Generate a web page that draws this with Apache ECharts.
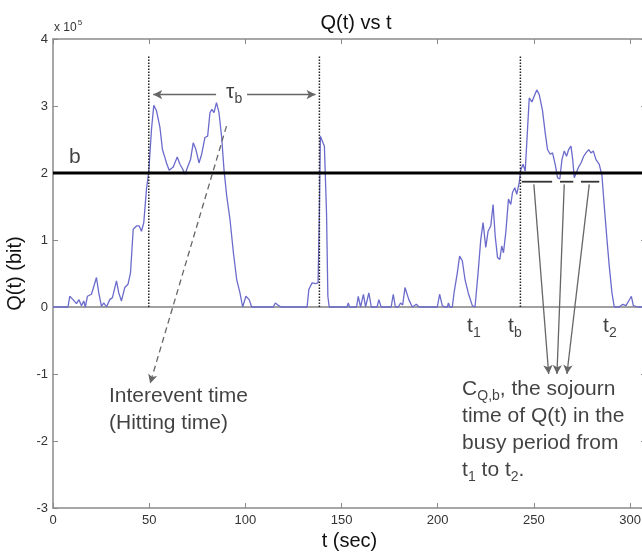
<!DOCTYPE html>
<html>
<head>
<meta charset="utf-8">
<script src="https://cdn.jsdelivr.net/npm/echarts@6/dist/echarts.min.js"></script>
<style>
html,body{margin:0;padding:0;background:#fff;}
#chart{width:642px;height:556px;}
</style>
</head>
<body>
<div id="chart"></div>
<script>
// ---- data (Q in units of 10^5 bit) ----
const tValues = [0, 7.8, 8.7, 10.4, 12.2, 13.5, 14.8, 16, 16.8, 17.9, 20, 20.8, 22.6, 23.8, 25.2, 26.4, 27.8, 29.5, 30.9, 33, 34.2, 35.6, 37.3, 39, 40.3, 41.7, 43.4, 44.8, 46, 47.2, 48.6, 49.8, 51.2, 52.4, 53.8, 55.6, 56.9, 58.2, 59, 60.4, 62.5, 64.6, 66, 67.4, 68.6, 70, 71.5, 72.9, 74.3, 75.9, 77.3, 79, 80.4, 81.6, 82.6, 83.7, 85, 86.3, 87.7, 88.9, 90.3, 92, 93.8, 95.5, 97.2, 98.6, 100.3, 102, 103.3,
  114.5, 115.6, 117.4, 118.5, 132.1, 133, 134.7, 136.5, 137.8, 138.5, 139, 139.9, 141.1, 142.2, 142.9, 143.6, 152.9, 153.5, 154.2, 157.8, 158.7, 159.9, 161.4, 162.5, 164.2, 165.5, 168.5, 169.4, 170.6, 175.8, 176.9, 178, 179.5, 180.7, 181.8, 183, 185, 186.8, 188.9, 190.3, 199.8, 201, 202.4, 203.5, 205, 205.6, 206.3, 207.6, 208.5, 210.2, 211.4, 212.8, 214.2, 215.9, 218, 219.4, 221, 222.4, 223.6, 225, 226.2, 227.6, 228.8, 229.9, 231.1, 232.3, 233.3, 234.2, 235.4, 236.8, 238, 238.9, 240.1, 241.1, 242.4, 243.2, 244.4, 245.5, 246.7, 247.6, 249, 250.2, 251.5, 252.8, 254.5, 255.9, 257.1, 258.5, 259.7, 261.1, 262.3, 263.5, 264.6, 265.8, 267, 268.1, 269.3, 270.2, 271, 271.9, 273.1, 274.5, 275.9, 277.1, 278.5, 279.7, 280.9, 282.3, 284, 285.4, 286.6, 288, 289.2, 290.6, 291.8, 294.4, 296.2, 297.9, 299.3, 300.7, 301.7, 304, 308.3];
const qValues = [0, 0, 0.16, 0.11, 0.05, 0.11, 0.02, 0.09, 0, 0.16, 0.19, 0.21, 0.44, 0.21, 0.01, 0.06, 0, 0.11, 0.14, 0.39, 0.21, 0.09, 0.29, 0.34, 0.51, 1.16, 1.21, 1.21, 1.13, 1.26, 1.76, 2.03, 2.65, 3.01, 2.93, 2.68, 2.35, 2.23, 2.15, 2.04, 2.09, 2.24, 2.13, 2.06, 1.98, 2.09, 2.2, 2.45, 2.35, 2.15, 2.28, 2.53, 2.55, 2.9, 2.95, 2.9, 3.05, 2.9, 2.53, 2.05, 1.66, 1.31, 0.81, 0.41, 0.21, 0, 0.16, 0.11, 0,
  0, 0.06, 0.02, 0, 0, 0.26, 0.36, 0.35, 0.36, 1.41, 2.55, 2.54, 2.4, 1.41, 0.16, 0, 0, 0.06, 0, 0, 0.16, 0, 0.19, 0, 0.21, 0, 0, 0.11, 0, 0, 0.19, 0, 0, 0.06, 0.03, 0.29, 0.11, 0, 0.04, 0, 0, 0.19, 0.02, 0, 0, 0.06, 0, 0, 0.21, 0.51, 0.76, 0.69, 0.41, 0.21, 0.02, 0, 0.51, 1.01, 1.26, 0.89, 1.13, 1.21, 1.53, 1.06, 0.74, 0.71, 0.91, 0.81, 1.11, 1.61, 1.53, 1.71, 1.78, 1.68, 1.86, 2.05, 2.13, 2.03, 2.65, 3.12, 3.06, 3.15, 3.24, 3.17, 2.93, 2.6, 2.35, 2.28, 2.3, 2.13, 1.93, 1.91, 2.2, 2.33, 2.25, 2.35, 2.4, 2.2, 1.93, 1.91, 2.08, 2.15, 2.25, 2.3, 2.35, 2.3, 2.33, 2.2, 2.13, 1.96, 1.51, 1.01, 0.61, 0.21, 0, 0, 0.04, 0.02, 0.09, 0.16, 0.02, 0, 0];

const xMin = 0, xMax = 308.3, xInterval = 50;
const yMin = -3, yMax = 4, yInterval = 1;
const thresholdB = 2;            // b
const eventTimes = [49.8, 138.5, 243];   // dotted vertical lines
const eventLineTop = 3.75;
const tauArrowY = 3.17;
const tauArrowLeft = [84.8, 52.1];   // from, to
const tauArrowRight = [100.9, 136.5];
const hitArrow = [[90.2, 2.70], [50.5, -1.14]];
const sojournLevel = 1.87;
const sojournSegments = [[243.7, 259.5], [263.6, 270.5], [274.5, 284]];
const sojournArrows = [[[250, 1.83], [257.7, -1.0]], [[265.8, 1.83], [262, -1.0]], [[278.8, 1.83], [267.2, -1.0]]];
const titleText = 'Q(t) vs t';
const xName = 't (sec)';
const yName = 'Q(t) (bit)';
const annotations = [
  {pos: [8.3, 2.23], text: 'b'},
  {pos: [90, 3.2], text: '{tau|τ}{sub|b}'},
  {pos: [215.3, -0.29], text: 't{sub|1}'},
  {pos: [236.6, -0.29], text: 't{sub|b}'},
  {pos: [286, -0.29], text: 't{sub|2}'},
  {pos: [29.1, -1.54], text: 'Interevent time\n(Hitting time)'},
  {pos: [212.7, -1.83], text: 'C{sub|Q,b}, the sojourn\ntime of Q(t) in the\nbusy period from\nt{sub|1} to t{sub|2}.'}
];

const FONT = 'Liberation Sans, Arial, Helvetica, sans-serif';
const axisGray = '#8a8a8a';
const chart = echarts.init(document.getElementById('chart'), null, {renderer: 'canvas'});

function axisCommon(extra) {
  return Object.assign({
    type: 'value',
    axisLine: {show: true, onZero: false, lineStyle: {color: axisGray, width: 1.5}},
    axisTick: {show: true, inside: true, length: 5, lineStyle: {color: axisGray, width: 1}},
    splitLine: {show: false},
    axisLabel: {show: false}
  }, extra);
}

const markLineBase = {
  silent: true,
  symbol: ['none', 'arrow'],
  symbolSize: [7, 9],
  label: {show: false},
  emphasis: {disabled: true},
  animation: false
};

const option = {
  animation: false,
  textStyle: {fontFamily: FONT},
  title: {
    text: titleText, left: 351, top: 8, textAlign: 'center',
    textStyle: {fontSize: 20, fontWeight: 'normal', color: '#111', fontFamily: FONT}
  },
  grid: {left: 53, right: -4, top: 39, bottom: 48, containLabel: false, outerBoundsMode: 'none'},
  xAxis: [
    axisCommon({
      min: xMin, max: xMax, interval: xInterval, position: 'bottom',
      axisLabel: {show: true, fontSize: 13, color: '#333', margin: 6, showMaxLabel: false, fontFamily: FONT},
      name: xName, nameLocation: 'middle', nameGap: 23,
      nameTextStyle: {fontSize: 20, color: '#111', fontFamily: FONT}
    }),
    axisCommon({min: xMin, max: xMax, interval: xInterval, position: 'top'})
  ],
  yAxis: [
    axisCommon({
      min: yMin, max: yMax, interval: yInterval, position: 'left',
      axisLabel: {show: true, fontSize: 13, color: '#333', margin: 5, fontFamily: FONT},
      name: yName, nameLocation: 'middle', nameGap: 20,
      nameTextStyle: {fontSize: 20, color: '#111', fontFamily: FONT}
    }),
    axisCommon({min: yMin, max: yMax, interval: yInterval, position: 'right'})
  ],
  graphic: [{
    type: 'text', left: 54, top: 19,
    style: {
      text: 'x 10{sup|5}', fontSize: 12, fill: '#333', fontFamily: FONT,
      rich: {sup: {fontSize: 8, padding: [0, 0, 9, 1], fontFamily: FONT, fill: '#333'}}
    }
  }],
  series: [
    {
      name: 'zero', type: 'line', showSymbol: false, silent: true,
      data: [[xMin, 0], [xMax, 0]],
      lineStyle: {color: '#a0a0a0', width: 2}, z: 1
    },
    {
      name: 'Q(t)', type: 'line', showSymbol: false, silent: true,
      data: tValues.map((t, i) => [t, qValues[i]]),
      lineStyle: {color: '#6b6bcc', width: 1.3}, z: 3
    },
    {
      name: 'b', type: 'line', showSymbol: false, silent: true,
      data: [[xMin, thresholdB], [xMax, thresholdB]],
      lineStyle: {color: '#000', width: 3}, z: 4,
      markLine: Object.assign({}, markLineBase, {
        lineStyle: {color: '#666', width: 1.3, type: 'solid'},
        data: [
          [{coord: [tauArrowLeft[0], tauArrowY]}, {coord: [tauArrowLeft[1], tauArrowY]}],
          [{coord: [tauArrowRight[0], tauArrowY]}, {coord: [tauArrowRight[1], tauArrowY]}]
        ].concat(sojournArrows.map(a => [{coord: a[0]}, {coord: a[1]}]))
      })
    },
    {
      name: 'hit', type: 'line', showSymbol: false, silent: true, data: [],
      markLine: Object.assign({}, markLineBase, {
        lineStyle: {color: '#666', width: 1.3, type: [6, 4]},
        data: [[{coord: hitArrow[0]}, {coord: hitArrow[1]}]]
      })
    }
  ].concat(eventTimes.map((t, i) => ({
    name: 'event' + i, type: 'line', showSymbol: false, silent: true,
    data: [[t, 0], [t, eventLineTop]],
    lineStyle: {color: '#222', width: 1.5, type: [1.5, 1.5]}, z: 5
  }))).concat(sojournSegments.map((s, i) => ({
    name: 'sojourn' + i, type: 'line', showSymbol: false, silent: true,
    data: [[s[0], sojournLevel], [s[1], sojournLevel]],
    lineStyle: {color: '#333', width: 1.8}, z: 5
  }))).concat([{
    name: 'labels', type: 'scatter', symbolSize: 0, silent: true, z: 10,
    data: annotations.map(a => ({value: a.pos, label: {formatter: a.text}})),
    label: {
      show: true, position: 'right', distance: 0,
      fontSize: 21, color: '#111', fontFamily: FONT, lineHeight: 27,
      rich: {
        sub: {fontSize: 14, lineHeight: 13, padding: [14, 0, 0, 0], color: '#111', fontFamily: FONT},
        tau: {fontSize: 21, color: '#111', fontFamily: FONT}
      }
    }
  }])
};
chart.setOption(option);
</script>
</body>
</html>
